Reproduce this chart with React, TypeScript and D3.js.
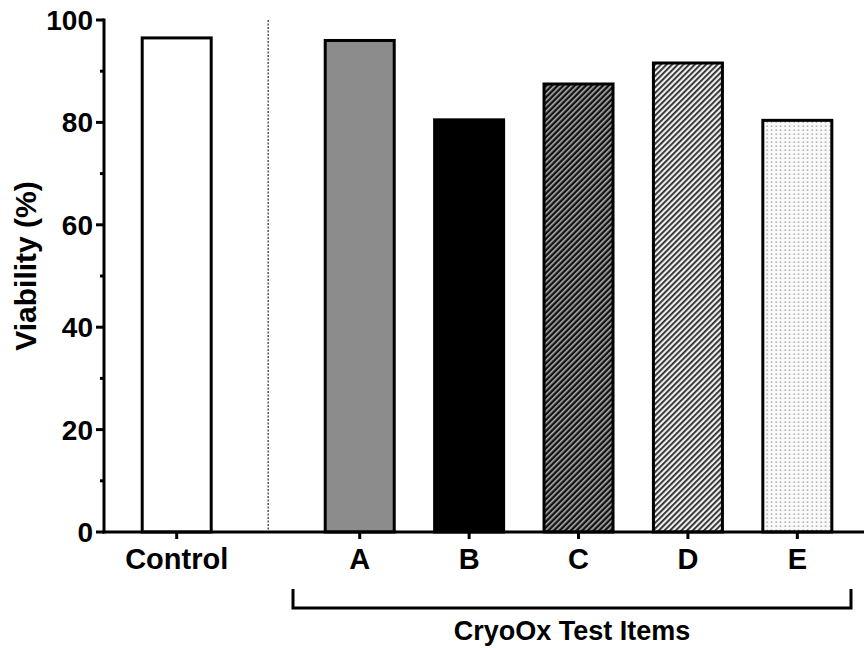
import React from "react";
import * as d3 from "d3";

const categories = ["Control", "A", "B", "C", "D", "E"];
const viability = [96.5, 96, 80.5, 87.5, 91.6, 80.4];
const fills = ["white", "#8c8c8c", "black", "url(#patC)", "url(#patD)", "url(#patE)"];
const yTicks = [0, 20, 40, 60, 80, 100];
const yMinorTicks = [10, 30, 50, 70, 90];
const groupLabel = "CryoOx Test Items";

const W = 864;
const H = 648;
const FONT = "'Liberation Sans', Arial, sans-serif";

export default function App() {
  const y = d3.scaleLinear().domain([0, 100]).range([532, 20]);
  // category positions: control separated by an extra gap
  const gap = 0.673;
  const pos = categories.map((_, i) => (i === 0 ? 0 : i + gap));
  const x = d3.scaleLinear().domain([0, 1]).range([176.7, 176.7 + 109.4]);
  const barW = 69;
  const axisX = 104;
  const dividerX = (x(pos[0]) + x(pos[1])) / 2;
  const bracketL = 293;
  const bracketR = 851;
  const bracketY = 608;

  return (
    <svg width={W} height={H} style={{ position: "absolute", left: 0, top: 0, background: "white" }}>
      <defs>
        <pattern id="patC" width={4} height={4} patternUnits="userSpaceOnUse" patternTransform="rotate(45)">
          <rect width={4} height={4} fill="#111" />
          <rect x={0} y={0} width={1.6} height={4} fill="#b0b0b0" />
        </pattern>
        <pattern id="patD" width={4} height={4} patternUnits="userSpaceOnUse" patternTransform="rotate(45)">
          <rect width={4} height={4} fill="#eeeeee" />
          <rect x={0} y={0} width={1.8} height={4} fill="#2a2a2a" />
        </pattern>
        <pattern id="patE" width={4.5} height={4} patternUnits="userSpaceOnUse">
          <rect width={4.5} height={4} fill="#fafafa" />
          <rect x={1.5} y={1.5} width={1.3} height={1.3} fill="#8a8a8a" />
        </pattern>
      </defs>

      {/* divider */}
      <line x1={dividerX} x2={dividerX} y1={y(100)} y2={y(0)} stroke="#555" strokeWidth={1.5} strokeDasharray="2,1.5" />

      {/* bars */}
      {categories.map((c, i) => (
        <rect
          key={c}
          x={x(pos[i]) - barW / 2}
          y={y(viability[i])}
          width={barW}
          height={y(0) - y(viability[i])}
          fill={fills[i]}
          stroke="black"
          strokeWidth={3}
        />
      ))}

      {/* y axis */}
      <line x1={axisX} x2={axisX} y1={y(100) - 1.5} y2={y(0) + 1.5} stroke="black" strokeWidth={3} />
      {yTicks.map((t) => (
        <g key={t}>
          <line x1={axisX - 8} x2={axisX} y1={y(t)} y2={y(t)} stroke="black" strokeWidth={3} />
          <text
            x={axisX - 11}
            y={y(t)}
            dy="0.36em"
            textAnchor="end"
            fontFamily={FONT}
            fontWeight="bold"
            fontSize={28}
          >
            {t}
          </text>
        </g>
      ))}
      {yMinorTicks.map((t) => (
        <line key={t} x1={axisX - 4} x2={axisX} y1={y(t)} y2={y(t)} stroke="black" strokeWidth={3} />
      ))}
      <text
        transform={`translate(36, 266) rotate(-90)`}
        textAnchor="middle"
        fontFamily={FONT}
        fontWeight="bold"
        fontSize={30}
      >
        Viability (%)
      </text>

      {/* x axis */}
      <line x1={axisX - 1.5} x2={W} y1={y(0)} y2={y(0)} stroke="black" strokeWidth={3} />
      {categories.map((c, i) => (
        <g key={c}>
          <line x1={x(pos[i])} x2={x(pos[i])} y1={y(0)} y2={y(0) + 7} stroke="black" strokeWidth={3} />
          <text
            x={x(pos[i])}
            y={569}
            textAnchor="middle"
            fontFamily={FONT}
            fontWeight="bold"
            fontSize={29}
          >
            {c}
          </text>
        </g>
      ))}

      {/* bracket */}
      <path
        d={`M${bracketL},${bracketY - 19} V${bracketY} H${bracketR} V${bracketY - 19}`}
        fill="none"
        stroke="black"
        strokeWidth={3}
      />
      <text
        x={(bracketL + bracketR) / 2}
        y={640}
        textAnchor="middle"
        fontFamily={FONT}
        fontWeight="bold"
        fontSize={27}
      >
        {groupLabel}
      </text>
    </svg>
  );
}
